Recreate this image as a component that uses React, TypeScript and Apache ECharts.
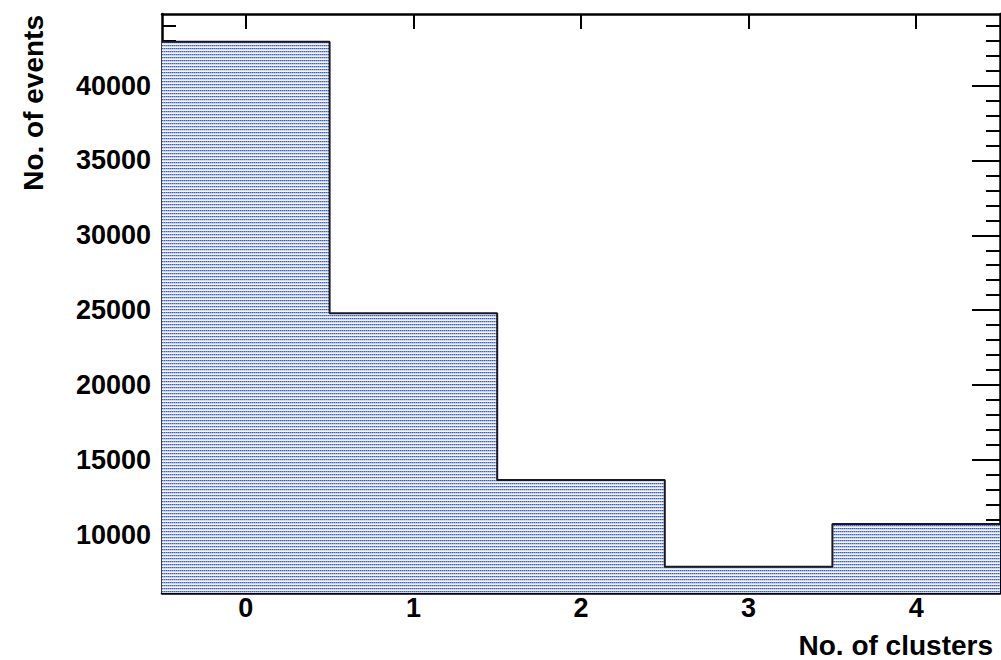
import React, { useEffect, useRef } from 'react';
import * as echarts from 'echarts';

// ---- data ----
const binCenters = [0, 1, 2, 3, 4];
const binWidth = 1;
const counts = [42930, 24800, 13650, 7860, 10710];
const xTickValues = [0, 1, 2, 3, 4];
const yMajorTicks = [10000, 15000, 20000, 25000, 30000, 35000, 40000];
const yMinorTicks = [
  7000, 8000, 9000, 11000, 12000, 13000, 14000, 16000, 17000, 18000, 19000,
  21000, 22000, 23000, 24000, 26000, 27000, 28000, 29000, 31000, 32000, 33000,
  34000, 36000, 37000, 38000, 39000, 41000, 42000, 43000, 44000,
];
const xRange = [-0.5, 4.5];
const yRange = [6110, 44780];
const xTitle = 'No. of clusters';
const yTitle = 'No. of events';

const FONT = "'Liberation Sans', Arial, Helvetica, sans-serif";

function makePattern(): HTMLCanvasElement {
  const c = document.createElement('canvas');
  c.width = 2;
  c.height = 3;
  const ctx = c.getContext('2d')!;
  const px = [
    ['#3d5ce6', '#8598f0'],
    ['#c2cdf8', '#d6ddfa'],
    ['#ffffff', '#f4f6fe'],
  ];
  for (let y = 0; y < 3; y++) {
    for (let x = 0; x < 2; x++) {
      ctx.fillStyle = px[y][x];
      ctx.fillRect(x, y, 1, 1);
    }
  }
  return c;
}

const plainNumber = (v: number) => String(v);

function xAxisDef(position: 'top' | 'bottom', labels: boolean) {
  return {
    type: 'value',
    min: xRange[0],
    max: xRange[1],
    position,
    axisLine: { show: true, onZero: false, lineStyle: { color: '#000', width: 2.5 } },
    axisTick: {
      show: true,
      inside: true,
      length: 15,
      customValues: xTickValues,
      lineStyle: { color: '#000', width: 2 },
    },
    axisLabel: {
      show: labels,
      customValues: xTickValues,
      formatter: plainNumber,
      fontSize: 27,
      fontWeight: 'bold',
      fontFamily: FONT,
      color: '#000',
      margin: 1,
    },
    splitLine: { show: false },
  };
}

function yAxisDef(position: 'left' | 'right', major: boolean, labels: boolean) {
  const ticks = major ? yMajorTicks : yMinorTicks;
  return {
    type: 'value',
    min: yRange[0],
    max: yRange[1],
    position,
    axisLine: { show: major, onZero: false, lineStyle: { color: '#000', width: 2.5 } },
    axisTick: {
      show: true,
      inside: true,
      length: major ? 28 : 14,
      customValues: ticks,
      lineStyle: { color: '#000', width: 2 },
    },
    axisLabel: {
      show: labels,
      customValues: yMajorTicks,
      formatter: plainNumber,
      fontSize: 27,
      fontWeight: 'bold',
      fontFamily: FONT,
      color: '#000',
      margin: 11,
    },
    splitLine: { show: false },
  };
}

export default function App() {
  const ref = useRef<HTMLDivElement>(null);

  useEffect(() => {
    if (!ref.current) return;
    const chart = echarts.init(ref.current, undefined, { renderer: 'svg' });

    const stepData: number[][] = [];
    binCenters.forEach((c, i) => {
      stepData.push([c - binWidth / 2, counts[i]]);
      stepData.push([c + binWidth / 2, counts[i]]);
    });

    const option: any = {
      animation: false,
      backgroundColor: '#ffffff',
      grid: { left: 162, right: 1, top: 14, bottom: 67, containLabel: false },
      xAxis: [xAxisDef('bottom', true), xAxisDef('top', false)],
      yAxis: [
        yAxisDef('left', true, true),
        yAxisDef('left', false, false),
        yAxisDef('right', true, false),
        yAxisDef('right', false, false),
      ],
      series: [
        {
          type: 'line',
          xAxisIndex: 0,
          yAxisIndex: 0,
          data: stepData,
          symbol: 'none',
          lineStyle: { color: '#1a1a1a', width: 2 },
          areaStyle: {
            origin: 'start',
            opacity: 1,
            color: { image: makePattern(), repeat: 'repeat', imageWidth: 2, imageHeight: 3 },
          },
          z: 1,
        },
      ],
      graphic: [
        {
          type: 'text',
          x: 993,
          y: 645,
          style: {
            text: xTitle,
            font: `bold 28px ${FONT}`,
            fill: '#000',
            align: 'right',
            verticalAlign: 'middle',
          },
        },
        {
          type: 'text',
          x: 33,
          y: 15,
          rotation: Math.PI / 2,
          style: {
            text: yTitle,
            font: `bold 28px ${FONT}`,
            fill: '#000',
            align: 'right',
            verticalAlign: 'middle',
          },
        },
      ],
    };

    chart.setOption(option);
    return () => chart.dispose();
  }, []);

  return (
    <div
      ref={ref}
      style={{ position: 'fixed', left: 0, top: 0, width: 1001, height: 660 }}
    />
  );
}
